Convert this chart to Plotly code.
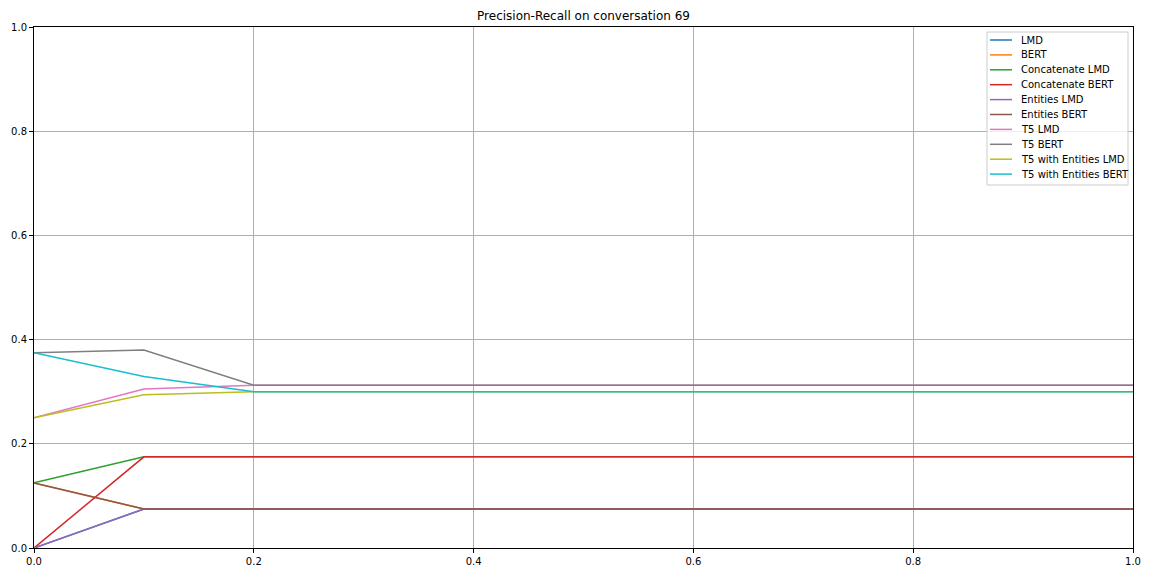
import plotly.graph_objects as go

recall = [0.0, 0.1, 0.2, 0.3, 0.4, 0.5, 0.6, 0.7, 0.8, 0.9, 1.0]

series_names = ["LMD", "BERT", "Concatenate LMD", "Concatenate BERT", "Entities LMD",
                "Entities BERT", "T5 LMD", "T5 BERT", "T5 with Entities LMD", "T5 with Entities BERT"]

lmd = [0.0, 0.075, 0.075, 0.075, 0.075, 0.075, 0.075, 0.075, 0.075, 0.075, 0.075]
bert = [0.125, 0.075, 0.075, 0.075, 0.075, 0.075, 0.075, 0.075, 0.075, 0.075, 0.075]
concat_lmd = [0.125, 0.175, 0.175, 0.175, 0.175, 0.175, 0.175, 0.175, 0.175, 0.175, 0.175]
concat_bert = [0.0, 0.175, 0.175, 0.175, 0.175, 0.175, 0.175, 0.175, 0.175, 0.175, 0.175]
entities_lmd = [0.0, 0.075, 0.075, 0.075, 0.075, 0.075, 0.075, 0.075, 0.075, 0.075, 0.075]
entities_bert = [0.125, 0.075, 0.075, 0.075, 0.075, 0.075, 0.075, 0.075, 0.075, 0.075, 0.075]
t5_lmd = [0.25, 0.305, 0.3125, 0.3125, 0.3125, 0.3125, 0.3125, 0.3125, 0.3125, 0.3125, 0.3125]
t5_bert = [0.375, 0.38, 0.3125, 0.3125, 0.3125, 0.3125, 0.3125, 0.3125, 0.3125, 0.3125, 0.3125]
t5_ent_lmd = [0.25, 0.294, 0.3, 0.3, 0.3, 0.3, 0.3, 0.3, 0.3, 0.3, 0.3]
t5_ent_bert = [0.375, 0.329, 0.3, 0.3, 0.3, 0.3, 0.3, 0.3, 0.3, 0.3, 0.3]

all_series = [lmd, bert, concat_lmd, concat_bert, entities_lmd, entities_bert,
              t5_lmd, t5_bert, t5_ent_lmd, t5_ent_bert]
colors = ["#1f77b4", "#ff7f0e", "#2ca02c", "#d62728", "#9467bd",
          "#8c564b", "#e377c2", "#7f7f7f", "#bcbd22", "#17becf"]

# Figure geometry (figure sits 8px inside the page because of body margin)
W, H = 1144, 568
ML, MR, MT, MB = 26, 19, 19, 28
PW, PH = W - ML - MR, H - MT - MB


def px(fx):
    return (fx - ML) / PW


def py(fy):
    return (H - MB - fy) / PH


fig = go.Figure()
for name, vals, c in zip(series_names, all_series, colors):
    fig.add_trace(go.Scatter(x=recall, y=vals, mode="lines", name=name,
                             line=dict(color=c, width=1.5), showlegend=False))

axis_common = dict(range=[0, 1], showgrid=True, gridcolor="#b0b0b0", gridwidth=0.8,
                   showline=True, linecolor="black", linewidth=1, mirror=True,
                   ticks="outside", ticklen=4, tickcolor="black", tickformat=".1f",
                   dtick=0.2, zeroline=False, automargin=False,
                   tickfont=dict(family="DejaVu Sans", size=10, color="black"))

# Legend drawn as box + sample lines + text (matplotlib-style compact legend)
shapes = []
annotations = []
box_l, box_r, box_t, box_b = 979, 1120, 24, 177
shapes.append(dict(type="rect", xref="paper", yref="paper",
                   x0=px(box_l), x1=px(box_r), y0=py(box_b), y1=py(box_t),
                   line=dict(color="#cccccc", width=1),
                   fillcolor="rgba(255,255,255,0.8)", layer="above"))
for i, (name, c) in enumerate(zip(series_names, colors)):
    yc = 32 + 14.9 * i
    shapes.append(dict(type="line", xref="paper", yref="paper",
                       x0=px(982), x1=px(1004), y0=py(yc), y1=py(yc),
                       line=dict(color=c, width=1.5), layer="above"))
    annotations.append(dict(text=name, xref="paper", yref="paper",
                            x=px(1011), y=py(yc), xanchor="left", yanchor="middle",
                            showarrow=False,
                            font=dict(family="DejaVu Sans", size=10, color="black")))

fig.update_layout(
    width=W, height=H,
    paper_bgcolor="white", plot_bgcolor="white",
    margin=dict(l=ML, r=MR, t=MT, b=MB),
    title=dict(text="Precision-Recall on conversation 69", x=px(ML + PW / 2), xref="paper",
               xanchor="center", y=1 - 8 / H, yanchor="middle",
               font=dict(family="DejaVu Sans", size=12, color="black")),
    xaxis=axis_common,
    yaxis=axis_common,
    shapes=shapes,
    annotations=annotations,
    showlegend=False,
)

fig.write_html("out.html")
